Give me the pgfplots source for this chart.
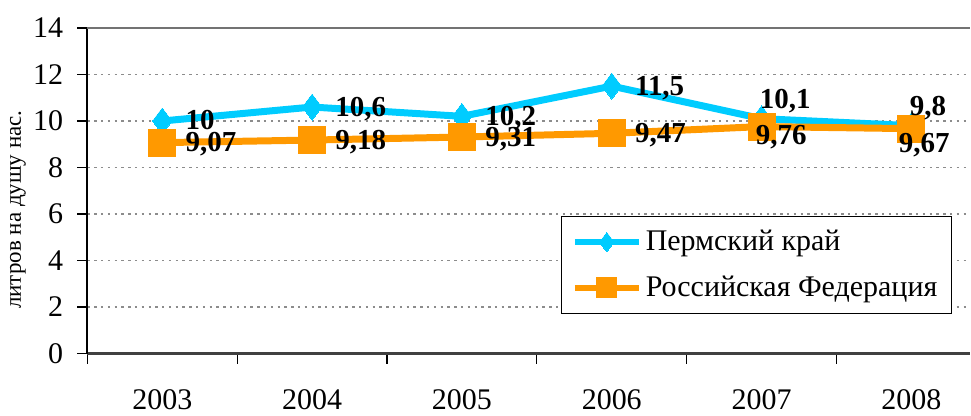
\documentclass[border=0pt]{standalone}
\usepackage{pgfplots}
\usepackage{pgfplotstable}
\pgfplotsset{compat=1.18}
\usepackage{fontspec}
\setmainfont{Liberation Serif}
\definecolor{perm}{HTML}{00CCFF}
\definecolor{rf}{HTML}{FF9900}

\pgfplotstableread{
x y lab
0 10 10
1 10.6 10,6
2 10.2 10,2
3 11.5 11,5
4 10.1 10,1
5 9.8 9,8
}\perm

\pgfplotstableread{
x y lab
0 9.07 9,07
1 9.18 9,18
2 9.31 9,31
3 9.47 9,47
4 9.76 9,76
5 9.67 9,67
}\rf

\pgfplotsset{
  lbl/.style 2 args={draw=none, forget plot, nodes near coords, point meta=explicit symbolic,
    every node near coord/.append style={anchor=base west, xshift=#1*0.5pt, yshift=#2*0.5pt,
      font=\fontsize{14.5}{16}\selectfont\bfseries, text=black, inner sep=0pt}},
}

\begin{document}
\begin{tikzpicture}
\begin{axis}[
  scale only axis,
  width=441.75pt, height=163pt,
  xmin=-0.5, xmax=5.39, ymin=0, ymax=14,
  clip=false,
  axis x line*=bottom, axis y line*=left,
  x axis line style={draw=black!75, line width=1.2pt},
  y axis line style={draw=black, line width=0.9pt},
  tick align=outside,
  xtick={0,...,5},
  xticklabels={2003,2004,2005,2006,2007,2008},
  major x tick style={draw=none},
  minor xtick={-0.5,0.5,1.5,2.5,3.5,4.5},
  minor tick length=5pt, major tick length=5pt,
  every tick/.append style={black, line width=0.6pt},
  ytick={0,2,...,12},
  extra y ticks={14},
  extra y tick style={grid=major, major grid style={solid, draw=black!55, line width=1pt}},
  ymajorgrids,
  major grid style={draw=black!45, line width=0.8pt, dash pattern=on 1.2pt off 2.2pt},
  /pgf/number format/assume math mode=true,
  tick label style={font=\fontsize{15}{18}\selectfont},
  yticklabel style={inner sep=0pt, anchor=east, xshift=-7pt},
  xticklabel style={inner sep=0pt, anchor=north, yshift=-13pt},
  ylabel={литров на душу нас.},
  y label style={at={(axis description cs:-0.0787,0.442)}, anchor=center, rotate=0, font=\fontsize{11.5}{13}\selectfont},
  legend style={at={(rel axis cs:0.537,0.423)}, anchor=north west,
    draw=black, line width=0.6pt, fill=white,
    font=\fontsize{15}{18}\selectfont,
    inner xsep=5pt, inner ysep=5pt, row sep=7pt},
  legend cell align=left,
  legend image code/.code={%
    \draw[mark repeat=2, mark phase=2, #1, line width=3pt, every mark/.append style={scale=0.75}]
      plot coordinates {(0pt,0pt) (16pt,0pt) (32pt,0pt)};},
]
\addplot[color=perm, line width=3.5pt, line join=round,
  mark=diamond*, mark size=6.5pt, mark options={solid, fill=perm, draw=perm, line width=0pt}]
  table[x=x, y=y] {\perm};
\addlegendentry{Пермский край}
\addplot[color=rf, line width=3.5pt, line join=round,
  mark=square*, mark size=6.75pt, mark options={solid, fill=rf, draw=rf, line width=0pt}]
  table[x=x, y=y] {\rf};
\addlegendentry{Российская Федерация}

% data labels (drawn on top)
\addplot[lbl={23}{-9}] table[x=x, y=y, meta=lab] {
x y lab
0 10 10
1 10.6 10,6
2 10.2 10,2
3 11.5 11,5
};
\addplot[lbl={-2}{10}] table[x=x, y=y, meta=lab] {
x y lab
4 10.1 10,1
5 9.8 9,8
};
\addplot[lbl={23}{-9}] table[x=x, y=y, meta=lab] {
x y lab
0 9.07 9,07
1 9.18 9,18
2 9.31 9,31
3 9.47 9,47
};
\addplot[lbl={-6}{-18}] table[x=x, y=y, meta=lab] {
x y lab
4 9.76 9,76
};
\addplot[lbl={-13}{-24}] table[x=x, y=y, meta=lab] {
x y lab
5 9.67 9,67
};

\path (rel axis cs:0,0) ++(-43.75pt,-31pt);
\path (rel axis cs:0,1) ++(0pt,14pt);
\end{axis}
\end{tikzpicture}
\end{document}
